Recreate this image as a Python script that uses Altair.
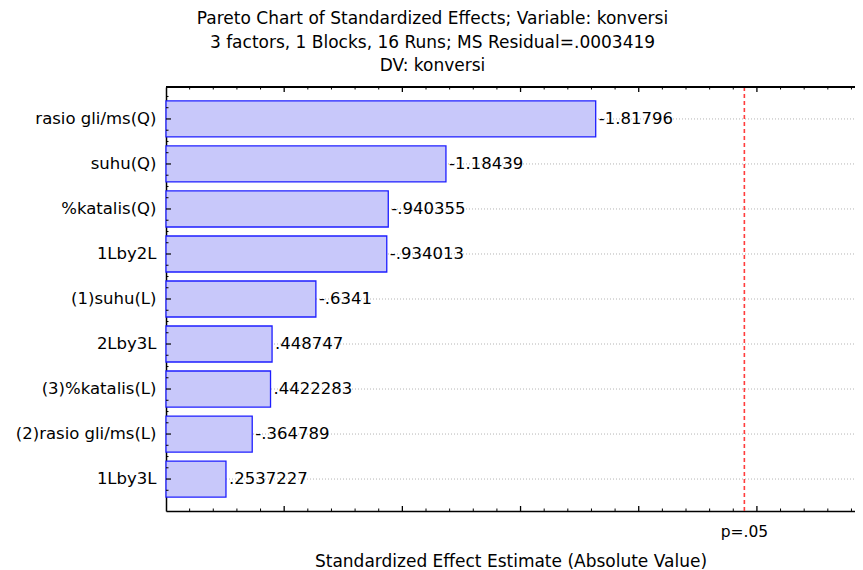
import altair as alt
import pandas as pd

factors = ["rasio gli/ms(Q)", "suhu(Q)", "%katalis(Q)", "1Lby2L", "(1)suhu(L)",
           "2Lby3L", "(3)%katalis(L)", "(2)rasio gli/ms(L)", "1Lby3L"]
effect_labels = ["-1.81796", "-1.18439", "-.940355", "-.934013", "-.6341",
                 ".448747", ".4422283", "-.364789", ".2537227"]
abs_effects = [1.81796, 1.18439, 0.940355, 0.934013, 0.6341,
               0.448747, 0.4422283, 0.364789, 0.2537227]
x_max = 2.915
crit_value = [2.446912]
crit_label = ["p=.05"]
major_ticks = [0.5, 1.0, 1.5, 2.0, 2.5]
minor_ticks = [round(0.1 * i, 1) for i in range(1, 30) if i % 5 != 0]
title_lines = ["Pareto Chart of Standardized Effects; Variable: konversi",
               "3 factors, 1 Blocks, 16 Runs; MS Residual=.0003419",
               "DV: konversi"]
x_title = "Standardized Effect Estimate (Absolute Value)"

FONT = "DejaVu Sans"
FS = 16.5
TFS = 17
W, H = 689, 424

df = pd.DataFrame({"factor": factors, "abs": abs_effects, "label": effect_labels})
crit_df = pd.DataFrame({"v": crit_value, "t": crit_label})
major_df = pd.DataFrame({"t": major_ticks})
minor_df = pd.DataFrame({"t": minor_ticks})

xscale = alt.Scale(domain=[0, x_max], nice=False, zero=True)
yscale = alt.Scale(paddingInner=0.2, paddingOuter=0.31)

xaxis = alt.Axis(labels=False, ticks=False, grid=False, domainColor="black",
                 domainWidth=1.5, title=x_title, titleFont=FONT, titleFontSize=TFS,
                 titleFontWeight="normal", titleColor="black", titlePadding=42)
yaxis = alt.Axis(ticks=False, grid=False, domainColor="black", domainWidth=1.5,
                 labelFont=FONT, labelFontSize=FS, labelColor="black",
                 labelPadding=10, title=None, labelLimit=300)

Y = alt.Y("factor:N", sort=factors, scale=yscale, axis=yaxis)

base = alt.Chart(df)

grid = base.mark_rule(stroke="#b4b4b4", strokeDash=[1, 2], strokeWidth=1).encode(
    y=Y, x=alt.value(0), x2=alt.value(W))

bars = base.mark_bar(fill="#c8c8fa", stroke="#1e1eff", strokeWidth=1.3).encode(
    x=alt.X("abs:Q", scale=xscale, axis=xaxis), y=Y)

labels = base.mark_text(align="left", baseline="middle", dx=3, font=FONT,
                        fontSize=FS, color="black").encode(
    x=alt.X("abs:Q", scale=xscale), y=Y, text="label:N")

crit = alt.Chart(crit_df).mark_rule(color="#ff3c3c", strokeDash=[4, 3],
                                    strokeWidth=1.6).encode(
    x=alt.X("v:Q", scale=xscale))

crit_text = alt.Chart(crit_df).mark_text(baseline="middle", font=FONT,
                                         fontSize=15.5, color="black").encode(
    x=alt.X("v:Q", scale=xscale), y=alt.value(H + 21), text="t:N")

xt_major_b = alt.Chart(major_df).mark_rule(color="black", strokeWidth=1.3).encode(
    x=alt.X("t:Q", scale=xscale), y=alt.value(H), y2=alt.value(H - 5))
xt_minor_b = alt.Chart(minor_df).mark_rule(color="black", strokeWidth=1).encode(
    x=alt.X("t:Q", scale=xscale), y=alt.value(H), y2=alt.value(H - 2.5))
xt_major_t = alt.Chart(major_df).mark_rule(color="black", strokeWidth=1.3).encode(
    x=alt.X("t:Q", scale=xscale), y=alt.value(0), y2=alt.value(5))
xt_minor_t = alt.Chart(minor_df).mark_rule(color="black", strokeWidth=1).encode(
    x=alt.X("t:Q", scale=xscale), y=alt.value(0), y2=alt.value(2.5))

yt_major = base.mark_rule(color="black", strokeWidth=1.2).encode(
    y=Y, x=alt.value(0), x2=alt.value(5))
yt_minor = alt.layer(*[
    base.mark_rule(color="black", strokeWidth=1, yOffset=o).encode(
        y=Y, x=alt.value(0), x2=alt.value(2.5))
    for o in (-22.5, -11.25, 11.25)
])

top_border = base.mark_rule(color="black", strokeWidth=1.5).encode(
    x=alt.value(0), x2=alt.value(W), y=alt.value(0))

chart = alt.layer(
    grid, bars, labels, crit, crit_text,
    xt_major_b, xt_minor_b, xt_major_t, xt_minor_t,
    yt_major, yt_minor, top_border
).properties(
    width=W, height=H,
    title=alt.TitleParams(text=title_lines, anchor="middle", frame="group",
                          dx=-78, font=FONT, fontSize=TFS, fontWeight="normal",
                          color="black", lineHeight=23.5, offset=11),
    autosize=alt.AutoSizeParams(type="none"),
    padding={"left": 158, "top": 79, "right": 0, "bottom": 60},
).configure_view(stroke=None).configure(background="white")

chart.save("out.html", embed_options={"renderer": "svg", "actions": False})
